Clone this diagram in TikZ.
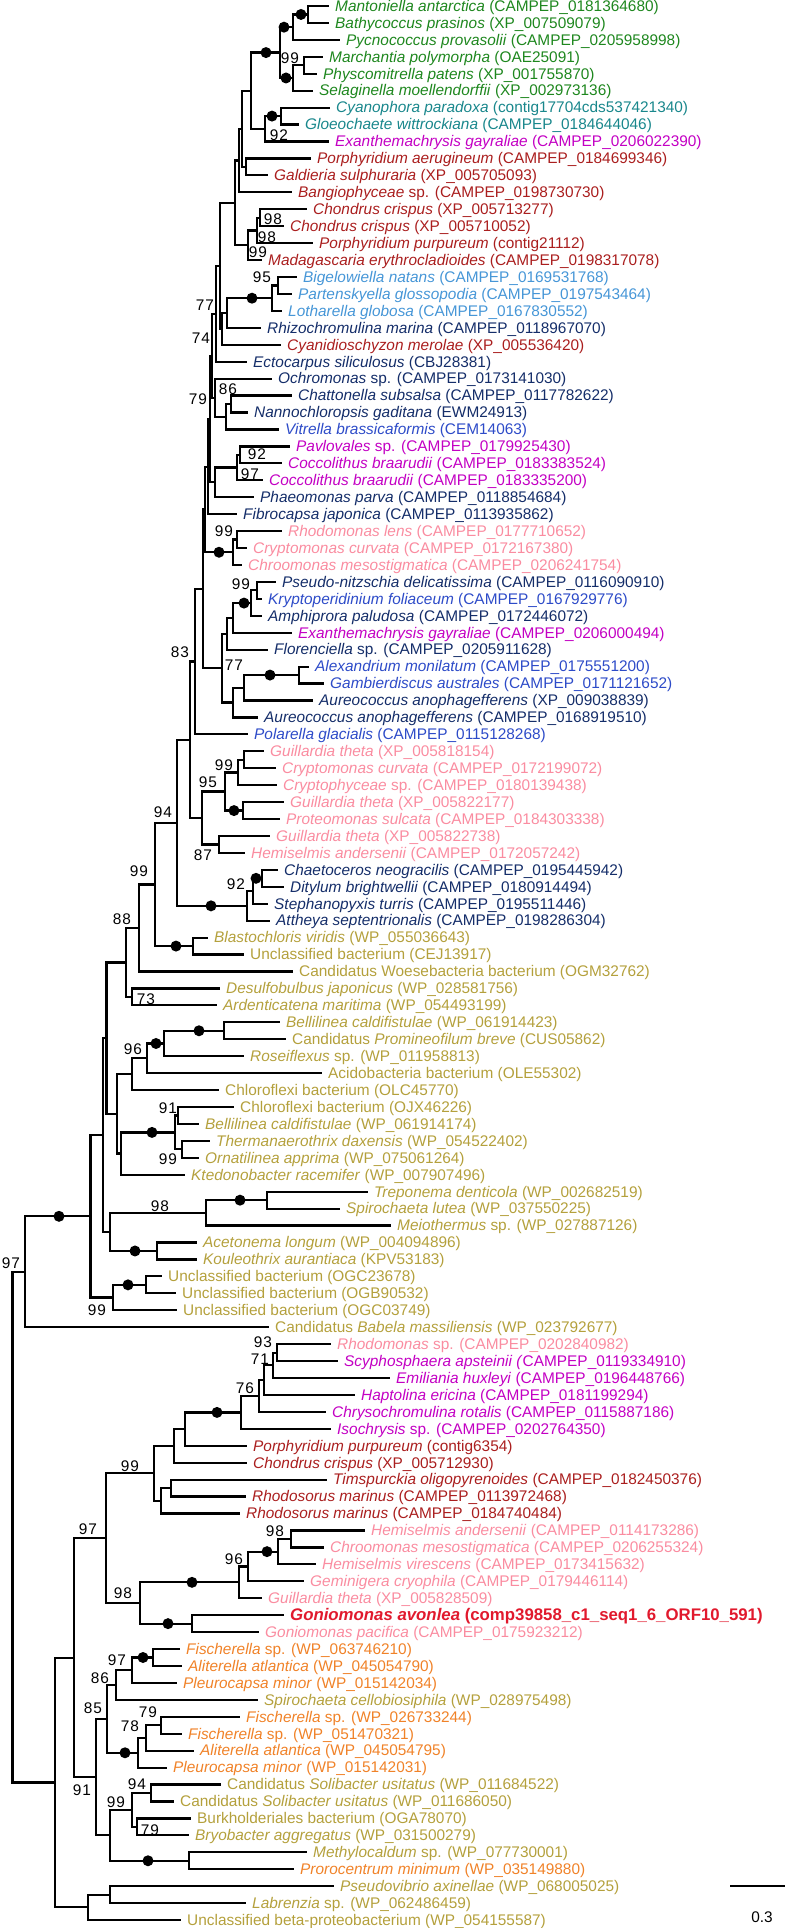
\documentclass[tikz,border=0pt]{standalone}
\usepackage{fontspec}
\setmainfont{Liberation Sans}
\definecolor{cGrn}{RGB}{30,135,30}
\definecolor{cTea}{RGB}{25,135,140}
\definecolor{cMag}{RGB}{195,0,195}
\definecolor{cRed}{RGB}{170,30,30}
\definecolor{cLbl}{RGB}{70,150,215}
\definecolor{cNav}{RGB}{20,45,105}
\definecolor{cBlu}{RGB}{45,75,200}
\definecolor{cPnk}{RGB}{250,140,160}
\definecolor{cOlv}{RGB}{180,160,60}
\definecolor{cOrg}{RGB}{240,130,40}
\definecolor{cGon}{RGB}{225,25,45}
\newcommand{\twodig}[2]{#1\kern1pt#2}
\begin{document}
\begin{tikzpicture}[x=1pt,y=-16.938pt,
  leaf/.style={anchor=west,inner xsep=6pt,inner ysep=0pt,text height=12pt,text depth=1.4pt,font=\fontsize{15.4}{17}\selectfont},
  grn/.style={leaf,text=cGrn}, tea/.style={leaf,text=cTea}, mag/.style={leaf,text=cMag},
  rdd/.style={leaf,text=cRed}, lbl/.style={leaf,text=cLbl}, nav/.style={leaf,text=cNav},
  blu/.style={leaf,text=cBlu}, pnk/.style={leaf,text=cPnk}, olv/.style={leaf,text=cOlv},
  org/.style={leaf,text=cOrg}, gon/.style={leaf,text=cGon,font=\fontsize{16.8}{18}\selectfont\bfseries},
  br/.style={line width=2.2pt},
  bsv/.style={inner sep=0pt,font=\fontsize{15.4}{17}\selectfont}]
\useasboundingbox (0,0.6458) rectangle (785,114.47);
% leaves
\node[grn] (l1) at (329,1) {\textit{Mantoniella antarctica} (CAMPEP\_0181364680)};
\node[grn] (l2) at (329,2) {\textit{Bathycoccus prasinos} (XP\_007509079)};
\node[grn] (l3) at (340,3) {\textit{Pycnococcus provasolii} (CAMPEP\_0205958998)};
\node[grn] (l4) at (323,4) {\textit{Marchantia polymorpha} (OAE25091)};
\node[grn] (l5) at (317,5) {\textit{Physcomitrella patens} (XP\_001755870)};
\node[grn] (l6) at (313,6) {\textit{Selaginella moellendorffii} (XP\_002973136)};
\node[tea] (l7) at (330,7) {\textit{Cyanophora paradoxa} (contig17704cds537421340)};
\node[tea] (l8) at (299,8) {\textit{Gloeochaete wittrockiana} (CAMPEP\_0184644046)};
\node[mag] (l9) at (329,9) {\textit{Exanthemachrysis gayraliae} (CAMPEP\_0206022390)};
\node[rdd] (l10) at (311,10) {\textit{Porphyridium aerugineum} (CAMPEP\_0184699346)};
\node[rdd] (l11) at (268,11) {\textit{Galdieria sulphuraria} (XP\_005705093)};
\node[rdd] (l12) at (292,12) {\textit{Bangiophyceae} sp. (CAMPEP\_0198730730)};
\node[rdd] (l13) at (307,13) {\textit{Chondrus crispus} (XP\_005713277)};
\node[rdd] (l14) at (284,14) {\textit{Chondrus crispus} (XP\_005710052)};
\node[rdd] (l15) at (313,15) {\textit{Porphyridium purpureum} (contig21112)};
\node[rdd] (l16) at (262,16) {\textit{Madagascaria erythrocladioides} (CAMPEP\_0198317078)};
\node[lbl] (l17) at (297,17) {\textit{Bigelowiella natans} (CAMPEP\_0169531768)};
\node[lbl] (l18) at (292,18) {\textit{Partenskyella glossopodia} (CAMPEP\_0197543464)};
\node[lbl] (l19) at (282,19) {\textit{Lotharella globosa} (CAMPEP\_0167830552)};
\node[nav] (l20) at (261,20) {\textit{Rhizochromulina marina} (CAMPEP\_0118967070)};
\node[rdd] (l21) at (281,21) {\textit{Cyanidioschyzon merolae} (XP\_005536420)};
\node[nav] (l22) at (247,22) {\textit{Ectocarpus siliculosus} (CBJ28381)};
\node[nav] (l23) at (272,23) {\textit{Ochromonas} sp. (CAMPEP\_0173141030)};
\node[nav] (l24) at (292,24) {\textit{Chattonella subsalsa} (CAMPEP\_0117782622)};
\node[nav] (l25) at (248,25) {\textit{Nannochloropsis gaditana} (EWM24913)};
\node[blu] (l26) at (279,26) {\textit{Vitrella brassicaformis} (CEM14063)};
\node[mag] (l27) at (290,27) {\textit{Pavlovales} sp. (CAMPEP\_0179925430)};
\node[mag] (l28) at (282,28) {\textit{Coccolithus braarudii} (CAMPEP\_0183383524)};
\node[mag] (l29) at (263,29) {\textit{Coccolithus braarudii} (CAMPEP\_0183335200)};
\node[nav] (l30) at (254,30) {\textit{Phaeomonas parva} (CAMPEP\_0118854684)};
\node[nav] (l31) at (237,31) {\textit{Fibrocapsa japonica} (CAMPEP\_0113935862)};
\node[pnk] (l32) at (282,32) {\textit{Rhodomonas lens} (CAMPEP\_0177710652)};
\node[pnk] (l33) at (247,33) {\textit{Cryptomonas curvata} (CAMPEP\_0172167380)};
\node[pnk] (l34) at (242,34) {\textit{Chroomonas mesostigmatica} (CAMPEP\_0206241754)};
\node[nav] (l35) at (276,35) {\textit{Pseudo-nitzschia delicatissima} (CAMPEP\_0116090910)};
\node[blu] (l36) at (262,36) {\textit{Kryptoperidinium foliaceum} (CAMPEP\_0167929776)};
\node[nav] (l37) at (262,37) {\textit{Amphiprora paludosa} (CAMPEP\_0172446072)};
\node[mag] (l38) at (292,38) {\textit{Exanthemachrysis gayraliae} (CAMPEP\_0206000494)};
\node[nav] (l39) at (268,39) {\textit{Florenciella} sp. (CAMPEP\_0205911628)};
\node[blu] (l40) at (309,40) {\textit{Alexandrium monilatum} (CAMPEP\_0175551200)};
\node[blu] (l41) at (324,41) {\textit{Gambierdiscus australes} (CAMPEP\_0171121652)};
\node[nav] (l42) at (313,42) {\textit{Aureococcus anophagefferens} (XP\_009038839)};
\node[nav] (l43) at (258,43) {\textit{Aureococcus anophagefferens} (CAMPEP\_0168919510)};
\node[blu] (l44) at (248,44) {\textit{Polarella glacialis} (CAMPEP\_0115128268)};
\node[pnk] (l45) at (264,45) {\textit{Guillardia theta} (XP\_005818154)};
\node[pnk] (l46) at (276,46) {\textit{Cryptomonas curvata} (CAMPEP\_0172199072)};
\node[pnk] (l47) at (277,47) {\textit{Cryptophyceae} sp. (CAMPEP\_0180139438)};
\node[pnk] (l48) at (284,48) {\textit{Guillardia theta} (XP\_005822177)};
\node[pnk] (l49) at (280,49) {\textit{Proteomonas sulcata} (CAMPEP\_0184303338)};
\node[pnk] (l50) at (270,50) {\textit{Guillardia theta} (XP\_005822738)};
\node[pnk] (l51) at (245,51) {\textit{Hemiselmis andersenii} (CAMPEP\_0172057242)};
\node[nav] (l52) at (278,52) {\textit{Chaetoceros neogracilis} (CAMPEP\_0195445942)};
\node[nav] (l53) at (284,53) {\textit{Ditylum brightwellii} (CAMPEP\_0180914494)};
\node[nav] (l54) at (268,54) {\textit{Stephanopyxis turris} (CAMPEP\_0195511446)};
\node[nav] (l55) at (270,55) {\textit{Attheya septentrionalis} (CAMPEP\_0198286304)};
\node[olv] (l56) at (208,56) {\textit{Blastochloris viridis} (WP\_055036643)};
\node[olv] (l57) at (244,57) {Unclassified bacterium (CEJ13917)};
\node[olv] (l58) at (293,58) {Candidatus Woesebacteria bacterium (OGM32762)};
\node[olv] (l59) at (220,59) {\textit{Desulfobulbus japonicus} (WP\_028581756)};
\node[olv] (l60) at (217,60) {\textit{Ardenticatena maritima} (WP\_054493199)};
\node[olv] (l61) at (280,61) {\textit{Bellilinea caldifistulae} (WP\_061914423)};
\node[olv] (l62) at (286,62) {Candidatus \textit{Promineofilum breve} (CUS05862)};
\node[olv] (l63) at (244,63) {\textit{Roseiflexus} sp. (WP\_011958813)};
\node[olv] (l64) at (322,64) {Acidobacteria bacterium (OLE55302)};
\node[olv] (l65) at (219,65) {Chloroflexi bacterium (OLC45770)};
\node[olv] (l66) at (234,66) {Chloroflexi bacterium (OJX46226)};
\node[olv] (l67) at (199,67) {\textit{Bellilinea caldifistulae} (WP\_061914174)};
\node[olv] (l68) at (210,68) {\textit{Thermanaerothrix daxensis} (WP\_054522402)};
\node[olv] (l69) at (199,69) {\textit{Ornatilinea apprima} (WP\_075061264)};
\node[olv] (l70) at (185,70) {\textit{Ktedonobacter racemifer} (WP\_007907496)};
\node[olv] (l71) at (368,71) {\textit{Treponema denticola} (WP\_002682519)};
\node[olv] (l72) at (340,72) {\textit{Spirochaeta lutea} (WP\_037550225)};
\node[olv] (l73) at (391,73) {\textit{Meiothermus} sp. (WP\_027887126)};
\node[olv] (l74) at (197,74) {\textit{Acetonema longum} (WP\_004094896)};
\node[olv] (l75) at (197,75) {\textit{Kouleothrix aurantiaca} (KPV53183)};
\node[olv] (l76) at (162,76) {Unclassified bacterium (OGC23678)};
\node[olv] (l77) at (176,77) {Unclassified bacterium (OGB90532)};
\node[olv] (l78) at (177,78) {Unclassified bacterium (OGC03749)};
\node[olv] (l79) at (269,79) {Candidatus \textit{Babela massiliensis} (WP\_023792677)};
\node[pnk] (l80) at (331,80) {\textit{Rhodomonas} sp. (CAMPEP\_0202840982)};
\node[mag] (l81) at (338,81) {\textit{Scyphosphaera apsteinii (}CAMPEP\_0119334910)};
\node[mag] (l82) at (390,82) {\textit{Emiliania huxleyi} (CAMPEP\_0196448766)};
\node[mag] (l83) at (355,83) {\textit{Haptolina ericina} (CAMPEP\_0181199294)};
\node[mag] (l84) at (326,84) {\textit{Chrysochromulina rotalis} (CAMPEP\_0115887186)};
\node[mag] (l85) at (331,85) {\textit{Isochrysis} sp. (CAMPEP\_0202764350)};
\node[rdd] (l86) at (247,86) {\textit{Porphyridium purpureum} (contig6354)};
\node[rdd] (l87) at (247,87) {\textit{Chondrus crispus} (XP\_005712930)};
\node[rdd] (l88) at (327,88) {\textit{Timspurckia oligopyrenoides} (CAMPEP\_0182450376)};
\node[rdd] (l89) at (246,89) {\textit{Rhodosorus marinus} (CAMPEP\_0113972468)};
\node[rdd] (l90) at (240,90) {\textit{Rhodosorus marinus} (CAMPEP\_0184740484)};
\node[pnk] (l91) at (365,91) {\textit{Hemiselmis andersenii} (CAMPEP\_0114173286)};
\node[pnk] (l92) at (324,92) {\textit{Chroomonas mesostigmatica} (CAMPEP\_0206255324)};
\node[pnk] (l93) at (316,93) {\textit{Hemiselmis virescens} (CAMPEP\_0173415632)};
\node[pnk] (l94) at (304,94) {\textit{Geminigera cryophila} (CAMPEP\_0179446114)};
\node[pnk] (l95) at (262,95) {\textit{Guillardia theta} (XP\_005828509)};
\node[gon] (l96) at (284,96) {\textit{Goniomonas avonlea} (comp39858\_c1\_seq1\_6\_ORF10\_591)};
\node[pnk] (l97) at (259,97) {\textit{Goniomonas pacifica} (CAMPEP\_0175923212)};
\node[org] (l98) at (180,98) {\textit{Fischerella} sp. (WP\_063746210)};
\node[org] (l99) at (182,99) {\textit{Aliterella atlantica} (WP\_045054790)};
\node[org] (l100) at (177,100) {\textit{Pleurocapsa minor} (WP\_015142034)};
\node[olv] (l101) at (258,101) {\textit{Spirochaeta cellobiosiphila} (WP\_028975498)};
\node[org] (l102) at (240,102) {\textit{Fischerella} sp. (WP\_026733244)};
\node[org] (l103) at (182,103) {\textit{Fischerella} sp. (WP\_051470321)};
\node[org] (l104) at (194,104) {\textit{Aliterella atlantica} (WP\_045054795)};
\node[org] (l105) at (167,105) {\textit{Pleurocapsa minor} (WP\_015142031)};
\node[olv] (l106) at (221,106) {Candidatus \textit{Solibacter usitatus} (WP\_011684522)};
\node[olv] (l107) at (174,107) {Candidatus \textit{Solibacter usitatus} (WP\_011686050)};
\node[olv] (l108) at (191,108) {Burkholderiales bacterium (OGA78070)};
\node[olv] (l109) at (189,109) {\textit{Bryobacter aggregatus} (WP\_031500279)};
\node[olv] (l110) at (307,110) {\textit{Methylocaldum} sp. (WP\_077730001)};
\node[org] (l111) at (294,111) {\textit{Prorocentrum minimum} (WP\_035149880)};
\node[olv] (l112) at (334,112) {\textit{Pseudovibrio axinellae} (WP\_068005025)};
\node[olv] (l113) at (246,113) {\textit{Labrenzia} sp. (WP\_062486459)};
\node[olv] (l114) at (181,114) {Unclassified beta-proteobacterium (WP\_054155587)};
% internal nodes
\foreach \n/\x/\y in {A/308/1.5, B/293/2.25, C/304/4.5, D/293/5.25, E/280/3.75, F/281/7.5, G/265/8.25,
  H/251/6, J/246/10.5, I/242/8.25, K/239/10.125, M/260/13.5, N/257/14.25, O/248/15.125, P/235/12.625,
  Q/278/17.5, R/272/18.25, S1/227/19.125, S2/222/20.0625, T1/220/16.344, T2/216/19.172,
  U/231/24.5, V/226/25.25, W/215/24.125, T3/212/21.648, X/240/27.5, Y/237/28.25, Z/215/29.125,
  T5/210/25.387, T6/208/28.193, AB/237/32.5, AA/233/33.25, T7/205/30.722,
  AC/257/35.5, AD/251/36.25, AE/233/37.125, AF/227/38.0625, AG/299/40.5, AH/244/41.25, AI/233/42.125,
  AJ/222/40.094, KK/203/35.408, M1/195/39.704, AK/244/45.5, AL/238/46.25, AN/243/48.5, AO/225/47.375,
  AQ/219/50.5, AR/202/48.9375, EU2/190/44.32, AS/262/52.5, AT/253/53.25, AU/247/54.125, EU/177/49.223,
  AW/193/56.5, AY/155/52.861, AX/139/55.431, AZ/132/59.5, BP/126/57.465,
  BA/224/61.5, BB/164/62.25, BC/147/63.125, BD/132/64.0625, BF/178/66.5, BG/182/68.5, BH/175/67.5,
  BI/121/68.75, BE/117/66.406, BN1/106.5/61.936, BJ/267/71.5, BK/206/72.25, BM/157/74.5, BL/110/73.375,
  BN2/103/67.656, BT/146/76.5, BS/113/77.25, BR/90.5/72.453, BU/25/75.727,
  BV/277/80.5, BW/273/81.25, BX/264/82.125, BY/259/83.0625, BZ/241/84.031, CA/185/85.016, CB/174/86.008,
  CC/171/88.5, CD/161/89.25, CE/154/87.629, CF/291/91.5, CG/278/92.25, CH/248/93.125, CI/239/94.0625,
  CK/192/96.5, CJ/140/95.281, CL/106/91.455, CM/153/98.5, CN/132/99.25, CO/116/100.125,
  CP/161/102.5, CQ/146/103.25, CR/138/104.125, CS/107/102.125, CV/151/106.5, CW/137/108.5, CX/132/107.5,
  CY/189/110.5, CU/110/109, CT/96/105.5625, CZ/74/98.509, DC/110/112.5, DB/88/113.25, DA/55/105.879,
  RT/12.5/90.803}
  \coordinate (\n) at (\x,\y);
% branches
\foreach \p/\c in {A/l1.west, A/l2.west, B/A, B/l3.west, C/l4.west, C/l5.west, D/C, D/l6.west, E/B, E/D,
  F/l7.west, F/l8.west, G/F, G/l9.west, H/E, H/G, J/l10.west, J/l11.west, I/H, I/J, K/I, K/l12.west,
  M/l13.west, M/l14.west, N/M, N/l15.west, O/N, O/l16.west, P/K, P/O, Q/l17.west, Q/l18.west, R/Q, R/l19.west,
  S1/R, S1/l20.west, S2/S1, S2/l21.west, T1/P, T1/S2, T2/T1, T2/l22.west, U/l24.west, U/l25.west, V/U, V/l26.west,
  W/l23.west, W/V, T3/T2, T3/W, X/l27.west, X/l28.west, Y/X, Y/l29.west, Z/Y, Z/l30.west, T5/T3, T5/Z,
  T6/T5, T6/l31.west, AB/l32.west, AB/l33.west, AA/AB, AA/l34.west, T7/T6, T7/AA,
  AC/l35.west, AC/l36.west, AD/AC, AD/l37.west, AE/AD, AE/l38.west, AF/AE, AF/l39.west,
  AG/l40.west, AG/l41.west, AH/AG, AH/l42.west, AI/AH, AI/l43.west, AJ/AF, AJ/AI, KK/T7, KK/AJ,
  M1/KK, M1/l44.west, AK/l45.west, AK/l46.west, AL/AK, AL/l47.west, AN/l48.west, AN/l49.west, AO/AL, AO/AN,
  AQ/l50.west, AQ/l51.west, AR/AO, AR/AQ, EU2/M1, EU2/AR, AS/l52.west, AS/l53.west, AT/AS, AT/l54.west,
  AU/AT, AU/l55.west, EU/EU2, EU/AU, AW/l56.west, AW/l57.west, AY/EU, AY/AW, AX/AY, AX/l58.west,
  AZ/l59.west, AZ/l60.west, BP/AX, BP/AZ, BA/l61.west, BA/l62.west, BB/BA, BB/l63.west, BC/BB, BC/l64.west,
  BD/BC, BD/l65.west, BF/l66.west, BF/l67.west, BG/l68.west, BG/l69.west, BH/BF, BH/BG, BI/BH, BI/l70.west,
  BE/BD, BE/BI, BN1/BP, BN1/BE, BJ/l71.west, BJ/l72.west, BK/BJ, BK/l73.west, BM/l74.west, BM/l75.west,
  BL/BK, BL/BM, BN2/BN1, BN2/BL, BT/l76.west, BT/l77.west, BS/BT, BS/l78.west, BR/BN2, BR/BS, BU/BR, BU/l79.west,
  BV/l80.west, BV/l81.west, BW/BV, BW/l82.west, BX/BW, BX/l83.west, BY/BX, BY/l84.west, BZ/BY, BZ/l85.west,
  CA/BZ, CA/l86.west, CB/CA, CB/l87.west, CC/l88.west, CC/l89.west, CD/CC, CD/l90.west, CE/CB, CE/CD,
  CF/l91.west, CF/l92.west, CG/CF, CG/l93.west, CH/CG, CH/l94.west, CI/CH, CI/l95.west, CK/l96.west, CK/l97.west,
  CJ/CI, CJ/CK, CL/CE, CL/CJ, CM/l98.west, CM/l99.west, CN/CM, CN/l100.west, CO/CN, CO/l101.west,
  CP/l102.west, CP/l103.west, CQ/CP, CQ/l104.west, CR/CQ, CR/l105.west, CS/CO, CS/CR,
  CV/l106.west, CV/l107.west, CW/l108.west, CW/l109.west, CX/CV, CX/CW, CY/l110.west, CY/l111.west,
  CU/CX, CU/CY, CT/CS, CT/CU, CZ/CL, CZ/CT, DC/l112.west, DC/l113.west, DB/DC, DB/l114.west,
  DA/CZ, DA/DB, RT/BU, RT/DA}
  \draw[br] (\p) |- (\c);
% full-support dots
\foreach \x/\y in {301/1.5, 284/2.25, 266/3.75, 286/5.25, 272/7.5, 252/18.25, 219/33.25, 244/36.25,
  270/40.5, 234/48.5, 256/52.5, 211/54.125, 176/56.5, 199/61.5, 156/62.25, 152/67.5, 240/71.5,
  59/72.453, 135/74.5, 128/76.5, 217/84.031, 267/92.25, 192/94.0625, 168/96.5, 143/98.5, 125/104.125, 148/110.5}
  \fill (\x,\y) circle[radius=5.5pt];
% support values
\foreach \x/\y/\t [count=\i] in {290/4.07/99, 279/8.62/92, 273/13.58/98, 267/14.64/98, 258/15.52/99,
  262/17.0/95, 205/18.65/77, 201/20.6/74, 228/23.61/86, 198/24.2/79, 257/27.45/92, 250/28.63/97,
  224/32.0/99, 241/35.12/99, 180/39.14/83, 234/39.9/77, 224/45.81/99, 208/46.81/95, 163/48.58/94,
  203/51.12/87, 139/52.07/99, 236/52.84/92, 122/54.9/88, 146/59.63/73, 133/62.58/96, 168/66.06/91,
  168/69.07/99, 160/71.85/98, 11/75.21/97, 97/77.99/99, 263/79.88/93, 260/80.88/71, 245/82.59/76,
  130/87.2/99, 88/90.92/97, 275/91.03/98, 234/92.69/96, 123/94.7/98, 117/98.65/97, 100/99.71/86,
  93/101.48/85, 148/101.72/79, 130/102.55/78, 137/105.97/94, 82/106.33/91, 116/107.04/99, 150/108.69/79}
  \node[bsv] (s\i) at (\x,\y) {\expandafter\twodig\t};
% scale bar
\coordinate (sb1) at (730,112.0);
\coordinate (sb2) at (785,112.0);
\draw[br] (sb1) -- (sb2);
\node[bsv] (sbl) at (762,113.82) {0.3};
\end{tikzpicture}
\end{document}
